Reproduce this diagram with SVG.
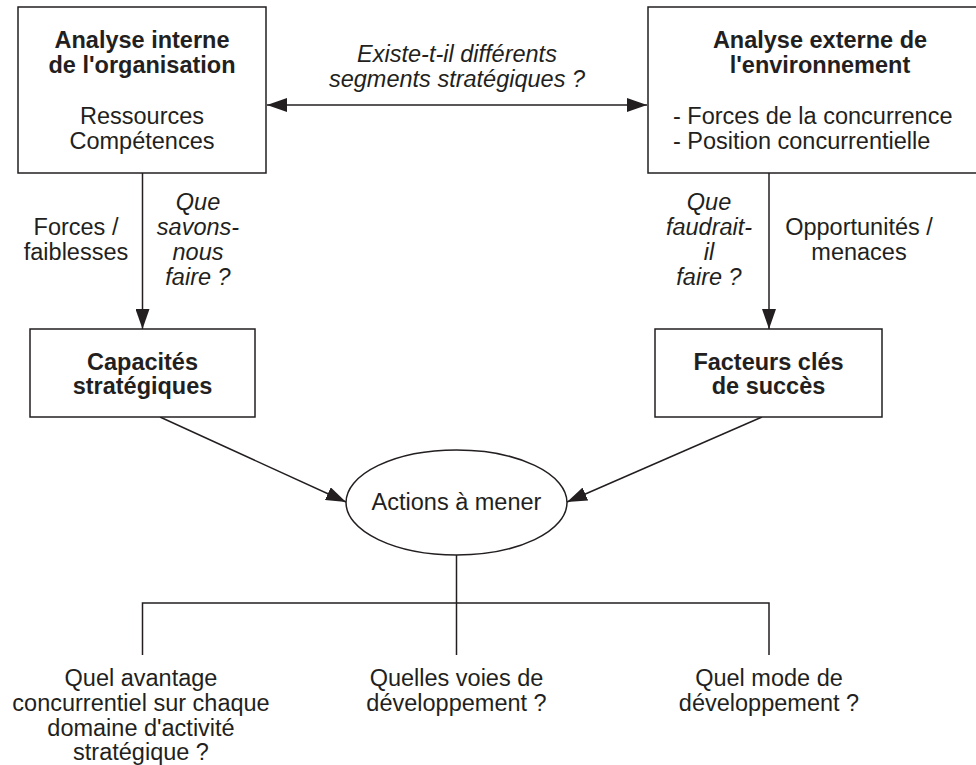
<svg xmlns="http://www.w3.org/2000/svg" width="976" height="765" viewBox="0 0 976 765">
<style>
text{font-family:"Liberation Sans",Arial,sans-serif;font-size:23.5px;fill:#231f20}
.b{font-weight:bold}
.i{font-style:italic}
.m{text-anchor:middle}
.box{fill:#fff;stroke:#231f20;stroke-width:1.5}
.ln{fill:none;stroke:#231f20;stroke-width:1.5}
</style>
<defs>
<marker id="ah" markerUnits="userSpaceOnUse" markerWidth="20" markerHeight="14" refX="20" refY="7" orient="auto-start-reverse" viewBox="0 0 20 14">
<path d="M0,0 L20,7 L0,14 z" fill="#231f20"/>
</marker>
</defs>
<rect width="976" height="765" fill="#fff"/>
<g id="connectors">
<line class="ln" x1="267" y1="105" x2="647" y2="105" marker-start="url(#ah)" marker-end="url(#ah)"/>
<line class="ln" x1="142.5" y1="173" x2="142.5" y2="329" marker-end="url(#ah)"/>
<line class="ln" x1="769" y1="173" x2="769" y2="329" marker-end="url(#ah)"/>
<line class="ln" x1="160" y1="417" x2="346" y2="502" marker-end="url(#ah)"/>
<line class="ln" x1="762" y1="417" x2="567" y2="502" marker-end="url(#ah)"/>
<line class="ln" x1="456.5" y1="555" x2="456.5" y2="655"/>
<polyline class="ln" points="142.5,655 142.5,603 769,603 769,655"/>
<text class="i m" x="457" y="62">Existe-t-il différents</text>
<text class="i m" x="457" y="87">segments stratégiques ?</text>
<text class="m" x="76" y="235">Forces /</text>
<text class="m" x="76" y="260">faiblesses</text>
<text class="i m" x="198" y="210">Que</text>
<text class="i m" x="198" y="235">savons-</text>
<text class="i m" x="198" y="260">nous</text>
<text class="i m" x="198" y="285">faire ?</text>
<text class="i m" x="709" y="210">Que</text>
<text class="i m" x="709" y="235">faudrait-</text>
<text class="i m" x="709" y="260">il</text>
<text class="i m" x="709" y="285">faire ?</text>
<text class="m" x="859" y="235">Opportunités /</text>
<text class="m" x="859" y="260">menaces</text>
</g>
<g id="analyse-interne">
<rect class="box" x="18" y="7" width="248" height="166"/>
<text class="b m" x="142" y="48">Analyse interne</text>
<text class="b m" x="142" y="73">de l'organisation</text>
<text class="m" x="142" y="124">Ressources</text>
<text class="m" x="142" y="149">Compétences</text>
</g>
<g id="analyse-externe">
<rect class="box" x="648" y="7" width="344" height="166"/>
<text class="b m" x="820" y="48">Analyse externe de</text>
<text class="b m" x="820" y="73">l'environnement</text>
<text x="673" y="124">- Forces de la concurrence</text>
<text x="673" y="149">- Position concurrentielle</text>
</g>
<g id="capacites">
<rect class="box" x="30" y="329" width="225" height="88"/>
<text class="b m" x="142.5" y="370">Capacités</text>
<text class="b m" x="142.5" y="394">stratégiques</text>
</g>
<g id="facteurs">
<rect class="box" x="655" y="329" width="227" height="88"/>
<text class="b m" x="768.5" y="370">Facteurs clés</text>
<text class="b m" x="768.5" y="394">de succès</text>
</g>
<g id="actions">
<ellipse class="box" cx="456.5" cy="502.5" rx="110.5" ry="52.5"/>
<text class="m" x="456.5" y="510">Actions à mener</text>
</g>
<g id="avantage">
<text class="m" x="141" y="686">Quel avantage</text>
<text class="m" x="141" y="711">concurrentiel sur chaque</text>
<text class="m" x="141" y="736">domaine d'activité</text>
<text class="m" x="141" y="760">stratégique ?</text>
</g>
<g id="voies">
<text class="m" x="456.5" y="686">Quelles voies de</text>
<text class="m" x="456.5" y="711">développement ?</text>
</g>
<g id="mode">
<text class="m" x="769" y="686">Quel mode de</text>
<text class="m" x="769" y="711">développement ?</text>
</g>
</svg>
